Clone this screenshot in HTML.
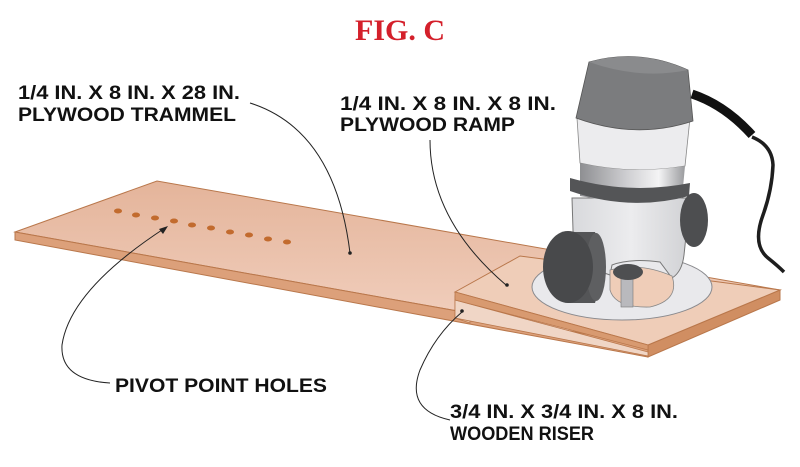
<!DOCTYPE html>
<html><head><meta charset="utf-8"><style>
html,body{margin:0;padding:0;background:#fff;}
svg{display:block;}
text{font-family:"Liberation Sans",sans-serif;font-weight:bold;}
</style></head><body>
<svg width="800" height="467" viewBox="0 0 800 467" xmlns="http://www.w3.org/2000/svg">
<defs>
<linearGradient id="wood" x1="0" y1="0" x2="0" y2="1">
<stop offset="0" stop-color="#e4b49a"/><stop offset="1" stop-color="#f3d3c3"/></linearGradient>
<linearGradient id="band" x1="0" y1="0" x2="1" y2="0">
<stop offset="0" stop-color="#8e8f92"/><stop offset="0.45" stop-color="#cfcfd2"/><stop offset="0.75" stop-color="#f4f4f5"/><stop offset="1" stop-color="#9a9b9e"/></linearGradient>
<linearGradient id="body" x1="0" y1="0" x2="1" y2="0">
<stop offset="0" stop-color="#d8d9dc"/><stop offset="0.5" stop-color="#ececee"/><stop offset="1" stop-color="#d0d1d4"/></linearGradient>
</defs>
<text x="400" y="40" text-anchor="middle" font-size="30" fill="#d4202b" style="font-family:'Liberation Serif',serif;font-weight:bold">FIG. C</text>

<!-- board -->
<polygon points="15,232 157,181 780,290 780,300 648,357 15,240" fill="#d59a72"/>
<polygon points="15,232 157,181 780,290 648,345" fill="url(#wood)" stroke="#b9774b" stroke-width="1"/>
<polygon points="15,232 648,345 648,357 15,240" fill="#dca07a" stroke="#b9774b" stroke-width="1"/>
<polygon points="648,345 780,290 780,300 648,357" fill="#d08e62" stroke="#b9774b" stroke-width="1"/>
<!-- holes -->
<g fill="#c26b2e">
<ellipse cx="118" cy="211" rx="4" ry="2.5"/><ellipse cx="136" cy="215" rx="4" ry="2.5"/><ellipse cx="155" cy="218" rx="4" ry="2.5"/><ellipse cx="174" cy="221" rx="4" ry="2.5"/><ellipse cx="192" cy="225" rx="4" ry="2.5"/><ellipse cx="211" cy="228" rx="4" ry="2.5"/><ellipse cx="230" cy="232" rx="4" ry="2.5"/><ellipse cx="249" cy="235" rx="4" ry="2.5"/><ellipse cx="268" cy="239" rx="4" ry="2.5"/><ellipse cx="287" cy="242" rx="4" ry="2.5"/>
</g>
<!-- riser & ramp -->
<polygon points="455,296 470,300 470,323 455,318" fill="#e8c0a2" stroke="#b9774b" stroke-width="0.8"/>
<polygon points="470,300 492,290 492,305 470,323" fill="#c98f66"/>
<polygon points="455,300 648,352 648,356 455,318" fill="#f0d6c6" stroke="#b9774b" stroke-width="0.8"/>
<polygon points="455,292 520,256 780,290 648,345" fill="#efcdb8" stroke="#b9774b" stroke-width="1"/>
<polygon points="455,292 648,345 648,350 455,300" fill="#d89a70" stroke="#b9774b" stroke-width="0.8"/>
<!-- router base -->
<ellipse cx="622" cy="287" rx="90" ry="33" fill="#e9e9ec" stroke="#8a8a8e" stroke-width="1"/>
<!-- lower body -->
<path d="M572,198 L574,262 Q590,268 610,275 L612,265 Q630,258 660,262 L672,278 Q682,272 684,255 L690,198 Z" fill="url(#body)" stroke="#777" stroke-width="1"/>
<path d="M610,270 Q640,262 672,276 Q680,300 650,307 Q615,308 610,290 Z" fill="#efcdb8" stroke="#888" stroke-width="0.8"/>
<rect x="621" y="275" width="12" height="32" fill="#b9b9bd" stroke="#777" stroke-width="0.6"/>
<ellipse cx="628" cy="272" rx="15" ry="8" fill="#4e4f51"/>
<!-- upper silver band -->
<path d="M577,118 L580,163 Q632,175 685,166 L690,118 Z" fill="#ececee" stroke="#888" stroke-width="0.8"/>
<!-- chrome band -->
<path d="M580,163 Q632,175 685,166 L682,198 Q632,206 580,196 Z" fill="url(#band)"/>
<!-- dark ring -->
<path d="M570,178 Q630,195 690,183 L689,196 Q630,212 570,191Z" fill="#545557"/>
<!-- cap -->
<path d="M589,62 Q640,48 688,70 L693,121 Q636,140 576,118 Z" fill="#7b7c7e" stroke="#555" stroke-width="0.8"/>
<path d="M589,62 Q640,48 688,70 Q640,80 589,62Z" fill="#8a8b8d"/>
<!-- knobs -->
<ellipse cx="694" cy="220" rx="14" ry="27" fill="#4d4e50"/>
<path d="M568,232 L595,232 Q608,266 595,303 L568,303Z" fill="#545557"/>
<ellipse cx="596" cy="267" rx="10" ry="34" fill="#5e5f61"/>
<ellipse cx="568" cy="267" rx="25" ry="36" fill="#48494b"/>
<!-- cord -->
<path d="M752,137 Q772,145 773,165 Q772,190 763,215 Q752,245 768,258 Q778,266 784,272" fill="none" stroke="#1e1e1e" stroke-width="3.5"/>
<path d="M692,94 Q725,105 752,135" stroke="#111" stroke-width="9" fill="none"/>

<!-- labels -->
<g font-size="19" fill="#111">
<text x="18" y="99" textLength="222" lengthAdjust="spacingAndGlyphs">1/4 IN. X 8 IN. X 28 IN.</text>
<text x="18" y="121" textLength="218" lengthAdjust="spacingAndGlyphs">PLYWOOD TRAMMEL</text>
<text x="340" y="110" textLength="216" lengthAdjust="spacingAndGlyphs">1/4 IN. X 8 IN. X 8 IN.</text>
<text x="340" y="131" textLength="175" lengthAdjust="spacingAndGlyphs">PLYWOOD RAMP</text>
<text x="115" y="392" textLength="212" lengthAdjust="spacingAndGlyphs">PIVOT POINT HOLES</text>
<text x="450" y="418" textLength="228" lengthAdjust="spacingAndGlyphs">3/4 IN. X 3/4 IN. X 8 IN.</text>
<text x="450" y="440" textLength="144" lengthAdjust="spacingAndGlyphs">WOODEN RISER</text>
</g>
<!-- leaders -->
<g fill="none" stroke="#222" stroke-width="1">
<path d="M250,103 Q335,130 350,253"/>
<path d="M430,140 Q430,220 506,285"/>
<path d="M110,383 Q60,380 62,345 Q70,290 165,228"/>
<path d="M450,420 Q405,410 420,370 Q435,335 462,312"/>
</g>
<g fill="#222">
<circle cx="350" cy="253" r="1.8"/><circle cx="507" cy="285" r="1.8"/><circle cx="462" cy="311" r="1.8"/>
<path d="M168,226 L159,229 L163,234Z"/>
</g>
</svg>
</body></html>
